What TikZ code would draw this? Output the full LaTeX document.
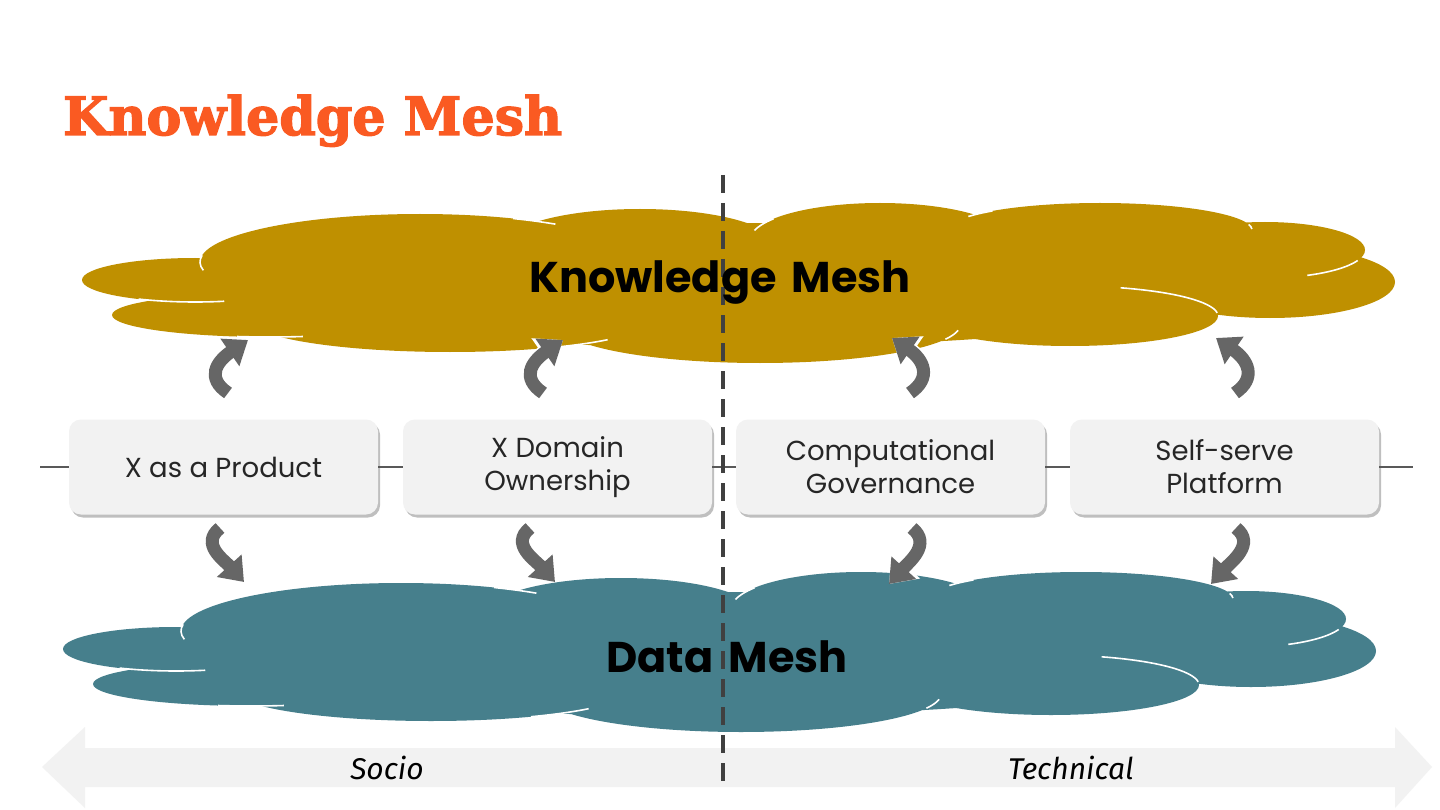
\documentclass[tikz,border=0pt]{standalone}
\usepackage{fontspec}
\setmainfont{Poppins}
\newfontfamily\titlefont[AutoFakeBold=2.5]{DejaVuSerif-Bold.ttf}
\newfontfamily\handfont{Fira Sans}
\usetikzlibrary{arrows.meta,shadows}
\definecolor{titleorange}{HTML}{FA5A22}
\definecolor{kmgold}{HTML}{BF9000}
\definecolor{dmteal}{HTML}{467F8C}
\definecolor{boxfill}{HTML}{F2F2F2}
\definecolor{arrowgray}{HTML}{666666}
\definecolor{linegray}{HTML}{595959}
\definecolor{dashgray}{HTML}{404040}
\definecolor{axisgray}{HTML}{F2F2F2}
\newcommand\carc[6]{\draw[white,line width=1.6pt] (#1,#2) ++(#5:#3pt and #4pt) arc[start angle=#5,end angle=#6,x radius=#3pt,y radius=#4pt];}
\newcommand\drawcloud[3]{%
\begin{scope}[shift={(#1,#2)}]
\fill[#3]
 (195,280) ellipse[x radius=113pt,y radius=22pt]
 (270,315) ellipse[x radius=158pt,y radius=22pt]
 (420,262) ellipse[x radius=220pt,y radius=48pt]
 (450,320) ellipse[x radius=200pt,y radius=32pt]
 (640,245) ellipse[x radius=135pt,y radius=36pt]
 (880,240) ellipse[x radius=130pt,y radius=37pt]
 (1100,230) ellipse[x radius=152pt,y radius=27pt]
 (1265,250) ellipse[x radius=100pt,y radius=28pt]
 (1270,282) ellipse[x radius=125pt,y radius=36pt]
 (1070,316) ellipse[x radius=148pt,y radius=30pt]
 (760,325) ellipse[x radius=200pt,y radius=38pt]
 (720,285) ellipse[x radius=520pt,y radius=62pt];
\carc{420}{262}{220}{48}{172}{190}
\carc{195}{280}{113}{22}{240}{285}
\carc{270}{315}{158}{22}{258}{282}
\carc{420}{262}{220}{48}{65}{52}
\carc{880}{240}{130}{37}{145}{165}
\carc{1100}{230}{152}{27}{135}{150}
\carc{1100}{230}{152}{27}{12}{2}
\carc{1265}{250}{100}{28}{295}{338}
\carc{1070}{316}{148}{30}{70}{6}
\carc{760}{325}{200}{38}{-22}{-8}
\carc{450}{320}{200}{32}{300}{322}
\end{scope}}
\tikzset{
 mbox/.style={rounded corners=12pt, fill=boxfill, minimum width=309pt, minimum height=95pt,
   align=center, text=black!85, font=\fontsize{27.5}{33}\selectfont,
   drop shadow={shadow xshift=2pt, shadow yshift=-3pt, fill=black, opacity=0.25}},
 hline/.style={draw=linegray, line width=2pt},
 curvearrow/.style={draw=arrowgray, line width=13pt, -{Triangle[width=32pt,length=22pt]},
   preaction={draw=white, line width=16pt, -{Triangle[width=37pt,length=25pt]}}},
 cloudlabel/.style={font=\bfseries\fontsize{43}{48}\selectfont, text=black},
 axislabel/.style={font=\handfont\itshape\fontsize{30}{34}\selectfont, text=black}
}
\begin{document}
\begin{tikzpicture}[x=1pt,y=-1pt]
\useasboundingbox (0,0) rectangle (1440,810);
\fill[white] (0,0) rectangle (1440,810);
% title
\node[anchor=base west, inner sep=0, text=titleorange, font=\titlefont\bfseries\fontsize{46}{56}\selectfont] (title) at (63,135) {\scalebox{1.135}[1.15]{Knowledge Mesh}};
% bottom axis arrow
\fill[axisgray] (42,767) -- (85,727) -- (85,748) -- (1395,748) -- (1395,727) -- (1432,767)
  -- (1395,808) -- (1395,787) -- (85,787) -- (85,808) -- cycle;
\node[axislabel] (socio) at (387,768) {Socio};
\node[axislabel] (tech) at (1071,768) {Technical};
% clouds
\drawcloud{0}{0}{kmgold}
\drawcloud{-19}{369}{dmteal}
% boxes
\node[mbox] (b1) at (223.5,467) {X as a Product};
\node[mbox] (b2) at (557.5,467) {X Domain\\Ownership};
\node[mbox] (b3) at (890.5,467) {Computational\\Governance};
\node[mbox] (b4) at (1224.5,467) {Self-serve\\Platform};
\coordinate (hl) at (40,467);
\coordinate (hr) at (1413,467);
\draw[hline] (hl) -- (b1.west);
\draw[hline] (b1.east) -- (b2.west);
\draw[hline] (b2.east) -- (b3.west);
\draw[hline] (b3.east) -- (b4.west);
\draw[hline] (b4.east) -- (hr);
% curved arrows
\coordinate (u1s) at (228,393); \coordinate (u1e) at (248,340);
\coordinate (u2s) at (543,393); \coordinate (u2e) at (563,340);
\coordinate (u3s) at (910,393); \coordinate (u3e) at (892,338);
\coordinate (u4s) at (1235,393); \coordinate (u4e) at (1216,338);
\coordinate (d1s) at (220,528); \coordinate (d1e) at (244,582);
\coordinate (d2s) at (530,528); \coordinate (d2e) at (555,582);
\coordinate (d3s) at (912,528); \coordinate (d3e) at (889,584);
\coordinate (d4s) at (1236,528); \coordinate (d4e) at (1211,584);
\draw[curvearrow] (u1s) .. controls +(-22,-15) and +(-32,22) .. (u1e);
\draw[curvearrow] (u2s) .. controls +(-22,-15) and +(-32,22) .. (u2e);
\draw[curvearrow] (u3s) .. controls +(22,-15) and +(32,22) .. (u3e);
\draw[curvearrow] (u4s) .. controls +(22,-15) and +(32,22) .. (u4e);
\draw[curvearrow] (d1s) .. controls +(-20,16) and +(-20,-22) .. (d1e);
\draw[curvearrow] (d2s) .. controls +(-20,16) and +(-20,-22) .. (d2e);
\draw[curvearrow] (d3s) .. controls +(20,16) and +(20,-22) .. (d3e);
\draw[curvearrow] (d4s) .. controls +(20,16) and +(20,-22) .. (d4e);
% dashed divider
\coordinate (dtop) at (723,175);
\coordinate (dbot) at (723,790);
\draw[dashgray, line width=3.5pt, dash pattern=on 18pt off 10pt] (dtop) -- (dbot);
% cloud labels
\node[cloudlabel] (km) at (720,283) {Knowledge\hspace{6pt} Mesh};
\node[cloudlabel] (dm) at (727,657) {Data\hspace{6pt} Mesh};
\end{tikzpicture}
\end{document}
